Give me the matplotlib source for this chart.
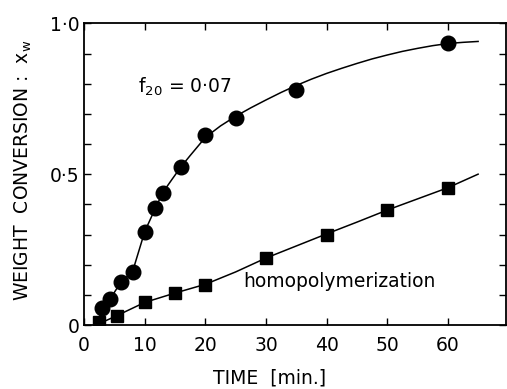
import numpy as np
import matplotlib.pyplot as plt
from matplotlib.ticker import MultipleLocator, FixedLocator

# measured points, f20 = 0.07 (circles)
t_copo = [3, 4.2, 6, 8, 10, 11.7, 13, 16, 20, 25, 35, 60]
x_copo = [0.058, 0.087, 0.144, 0.177, 0.309, 0.387, 0.439, 0.525, 0.630, 0.685, 0.779, 0.936]

# measured points, homopolymerization (squares)
t_homo = [2.4, 5.5, 10, 15, 20, 30, 40, 50, 60]
x_homo = [0.011, 0.031, 0.075, 0.107, 0.133, 0.222, 0.300, 0.381, 0.455]

# drawn curves
ct_copo = [2, 3, 4.2, 6, 8, 10, 11.7, 13, 14.5, 16, 17.5, 20, 22.5, 25, 27.5, 30, 32.5, 35,
           37.5, 40, 42.5, 45, 47.5, 50, 52.5, 55, 57.5, 60, 62.5, 65]
cx_copo = [0.0, 0.052, 0.084, 0.140, 0.178, 0.31, 0.385, 0.44, 0.483, 0.525, 0.562, 0.622,
           0.660, 0.692, 0.720, 0.746, 0.771, 0.794, 0.815, 0.834, 0.851, 0.867, 0.882,
           0.895, 0.907, 0.917, 0.926, 0.933, 0.937, 0.940]
ct_homo = [2, 5.5, 10, 15, 20, 25, 30, 35, 40, 45, 50, 55, 60, 65]
cx_homo = [0.0, 0.032, 0.075, 0.106, 0.135, 0.176, 0.222, 0.262, 0.302, 0.341, 0.381,
           0.418, 0.455, 0.5]

xticks = [0, 10, 20, 30, 40, 50, 60]
yticks = [0, 0.5, 1.0]
ytick_labels = ["0", "0·5", "1·0"]

fig = plt.figure(figsize=(5.07, 3.89), dpi=100)
ax = fig.add_axes([0.166, 0.1645, 0.832, 0.7755])

ax.plot(ct_copo, cx_copo, color="black", lw=1.1)
ax.plot(ct_homo, cx_homo, color="black", lw=1.1)
ax.plot(t_copo, x_copo, "o", color="black", ms=10.5)
ax.plot(t_homo, x_homo, "s", color="black", ms=8.5)

ax.set_xlim(0, 69.6)
ax.set_ylim(0, 1.0)
ax.xaxis.set_major_locator(FixedLocator(xticks))
ax.set_yticks(yticks)
ax.set_yticklabels(ytick_labels)
ax.yaxis.set_minor_locator(MultipleLocator(0.1))
ax.tick_params(which="both", direction="in", top=True, right=True, labelsize=13.5,
               length=5, width=1)
ax.tick_params(axis="x", pad=8)
for s in ax.spines.values():
    s.set_linewidth(1.3)

ax.set_xlabel("TIME  [min.]", fontsize=13.5, va="center")
ax.xaxis.set_label_coords(0.44, -0.176)
ax.set_ylabel("WEIGHT  CONVERSION :  x$_\\mathregular{w}$", fontsize=13.5, va="center")
ax.yaxis.set_label_coords(-0.145, 0.514)

ax.text(8.9, 0.79, "f$_\\mathregular{20}$ = 0·07", fontsize=13.5, va="center")
ax.text(26.2, 0.143, "homopolymerization", fontsize=13.5, va="center")

fig.savefig("out.png", dpi=100)
